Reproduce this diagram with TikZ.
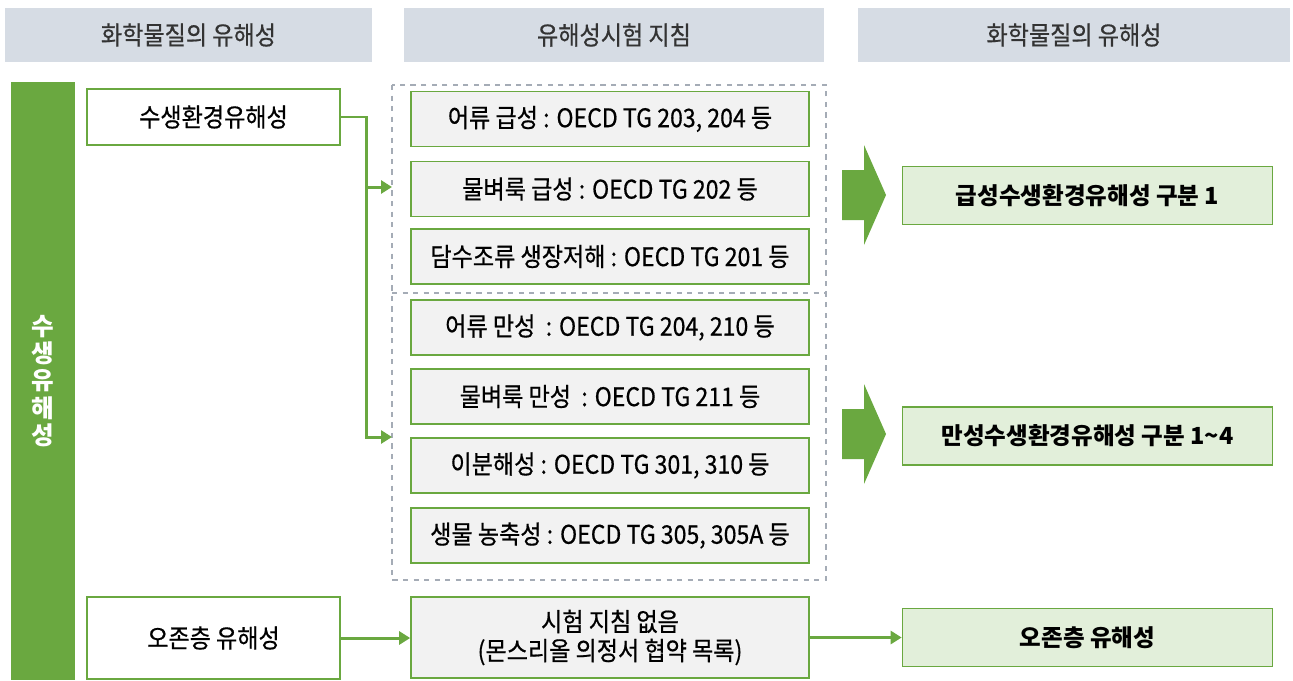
\documentclass[tikz,border=0pt]{standalone}
\usepackage{fontspec}
\setmainfont{Noto Sans CJK KR}
\newfontfamily\condfont{Noto Sans CJK KR}[FakeStretch=0.9,FakeBold=0.6]
\usetikzlibrary{calc}
\usetikzlibrary{arrows.meta}
\definecolor{leafgreen}{RGB}{106,168,64}
\definecolor{headgray}{RGB}{214,220,228}
\definecolor{boxgray}{RGB}{242,242,242}
\definecolor{palegreen}{RGB}{226,239,218}
\definecolor{dashgray}{RGB}{165,172,182}

\begin{document}
\begin{tikzpicture}[x=0.02cm,y=-0.02cm,
    headbar/.style={fill=headgray,minimum height=1.08cm,text=black!80,font=\condfont\fontsize{14.6pt}{16pt}\selectfont},
    hazard/.style={draw=leafgreen,line width=1pt,fill=white,minimum width=5.06cm,font=\condfont\fontsize{14.6pt}{16pt}\selectfont},
    testbox/.style={draw=leafgreen,line width=1pt,fill=boxgray,minimum width=7.96cm,minimum height=1.1cm,font=\condfont\fontsize{14.6pt}{16.5pt}\selectfont},
    resultbox/.style={draw=leafgreen,line width=1pt,fill=palegreen,minimum width=7.4cm,minimum height=1.16cm,font=\bfseries\fontsize{13.4pt}{15pt}\selectfont},
    flow/.style={draw=leafgreen,line width=1.7pt,-{Triangle[length=2.2mm,width=2.6mm]}}]
      \useasboundingbox (0,0) rectangle (1293,680);
      % headers
      \node[headbar,minimum width=7.34cm] (headleft) at (188.5,35) {화학물질의 유해성};
      \node[headbar,minimum width=8.4cm] (headmid) at (614,35) {유해성시험 지침};
      \node[headbar,minimum width=8.64cm] (headright) at (1074,35) {화학물질의 유해성};
      % green side bar
      \node[fill=leafgreen,minimum width=1.28cm,minimum height=11.96cm,text=white,align=center,
            font=\bfseries\fontsize{14pt}{15.6pt}\selectfont] (sidebar) at (43,381) {수\\생\\유\\해\\성};
      % hazards
      \node[hazard,minimum height=1.12cm] (aqua) at (213.5,117) {수생환경유해성};
      \node[hazard,minimum height=1.64cm] (ozone) at (213.5,638) {오존층 유해성};
      % dashed groups
      \draw[dashgray,dashed,line width=0.8pt] (392,85) rectangle (826,580);
      \draw[dashgray,dashed,line width=0.8pt] (392,293) -- (826,293);
      % test guidelines
      \node[testbox] (fishacute) at (610,119) {어류 급성 : OECD TG 203, 204 등};
      \node[testbox] (daphacute) at (610,189) {물벼룩 급성 : OECD TG 202 등};
      \node[testbox] (algae) at (610,256.5) {담수조류 생장저해 : OECD TG 201 등};
      \node[testbox] (fishchronic) at (610,327.5) {어류 만성~ : OECD TG 204, 210 등};
      \node[testbox] (daphchronic) at (610,396.5) {물벼룩 만성~ : OECD TG 211 등};
      \node[testbox] (degrade) at (610,465.5) {이분해성 : OECD TG 301, 310 등};
      \node[testbox] (bioacc) at (610,535.5) {생물 농축성 : OECD TG 305, 305A 등};
      \node[testbox,minimum height=1.62cm,align=center] (noguide) at (610,637.5) {시험 지침 없음\\(몬스리올 의정서 협약 목록)};
      % results
      \node[resultbox] (acute) at (1087.5,195.5) {급성수생환경유해성 구분 1};
      \node[resultbox] (chronic) at (1087.5,436) {만성수생환경유해성 구분 1\textasciitilde4};
      \node[resultbox] (ozoneres) at (1087.5,637.5) {오존층 유해성};
      % connectors
      \coordinate (split) at (366,117);
      \coordinate (acutein) at (392,187);
      \coordinate (chronicin) at (392,437);
      \draw[flow] (aqua.east) -- (split) |- (acutein);
      \draw[flow] (split) |- (chronicin);
      \draw[flow] (ozone) -- (ozone -| noguide.west);
      \draw[flow] (noguide) -- (noguide -| ozoneres.west);
      % block arrows
      \foreach \cy in {195,434} {
        \fill[leafgreen] (842,\cy-25) -- ++(22,0) -- ++(0,-25) -- (886,\cy) -- (864,\cy+50) -- ++(0,-25) -- (842,\cy+25) -- cycle;
      }
    \end{tikzpicture}
\end{document}
